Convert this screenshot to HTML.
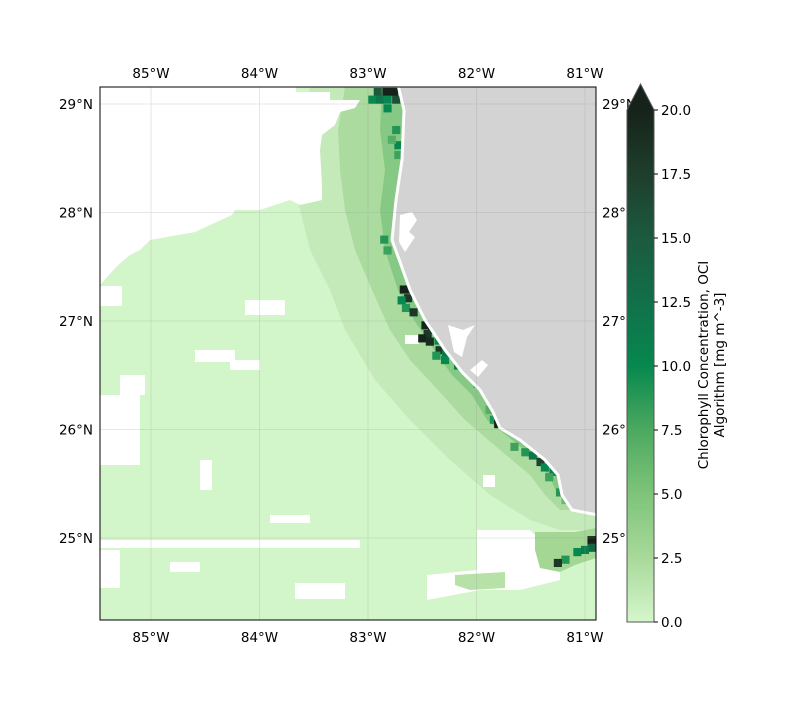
<!DOCTYPE html>
<html><head><meta charset="utf-8"><style>
body{margin:0;background:#fff;}
svg text{font-family:"DejaVu Sans","Liberation Sans",sans-serif;font-size:13.5px;fill:#000;}
</style></head><body>
<svg id="c" width="800" height="700" viewBox="0 0 800 700" xmlns="http://www.w3.org/2000/svg">
<defs>
<clipPath id="ax"><rect x="100" y="87" width="496" height="533"/></clipPath>
<linearGradient id="cbg" x1="0" y1="1" x2="0" y2="0">
<stop offset="0" stop-color="#d5f6cc"/><stop offset="0.125" stop-color="#a8d99a"/><stop offset="0.25" stop-color="#7ec47a"/><stop offset="0.375" stop-color="#4ca95f"/><stop offset="0.5" stop-color="#07884f"/><stop offset="0.625" stop-color="#11704a"/><stop offset="0.75" stop-color="#1c5a3f"/><stop offset="0.875" stop-color="#1e3e2c"/><stop offset="1" stop-color="#16231a"/>
</linearGradient>
</defs>
<g id="map" clip-path="url(#ax)">
<rect x="100" y="87" width="496" height="533" fill="#d3f5ca"/>
<polygon fill="#c4eaba" points="310,87 300,130 290,170 300,210 310,250 330,290 345,330 375,380 410,420 450,460 490,495 530,520 560,530 596,530 596,515 572,510 562,495 558,475 545,460 520,440 500,428 493,412 480,390 462,372 445,350 425,320 410,290 400,262 392,240 396,200 402,160 404,110 398,87"/>
<polygon fill="#abdb9f" points="345,87 338,130 340,170 345,210 355,250 372,290 390,330 410,360 438,390 465,420 500,450 530,475 545,495 560,510 572,510 562,495 558,475 545,460 520,440 500,428 493,412 480,390 462,372 445,350 425,320 410,290 400,262 392,240 396,200 402,160 404,110 398,87"/>
<polygon fill="#86c984" points="382,87 380,130 385,170 380,210 385,250 398,290 414,320 434,350 452,375 472,395 487,420 512,440 537,460 551,480 558,495 562,495 558,475 545,460 520,440 500,428 493,412 480,390 462,372 445,350 425,320 410,290 400,262 392,240 396,200 402,160 404,110 398,87"/>
<g id="nodata" fill="#fff">
<polygon points="100,87 296,87 296,92 330,92 330,100 360,100 355,108 340,112 335,125 322,135 320,150 322,185 322,200 300,205 290,200 260,210 235,210 232,215 210,225 195,232 150,240 140,250 130,255 118,265 100,285"/>
<rect x="100" y="286" width="22" height="20"/>
<rect x="100" y="395" width="40" height="70"/>
<rect x="120" y="375" width="25" height="20"/>
<rect x="195" y="350" width="40" height="12"/>
<rect x="230" y="360" width="30" height="10"/>
<rect x="245" y="300" width="40" height="15"/>
<rect x="200" y="460" width="12" height="30"/>
<rect x="100" y="540" width="260" height="8"/>
<rect x="100" y="550" width="20" height="38"/>
<rect x="170" y="562" width="30" height="10"/>
<rect x="295" y="583" width="50" height="16"/>
<rect x="270" y="515" width="40" height="8"/>
<polygon points="477,530 530,530 540,540 545,560 560,565 560,580 520,590 480,590 427,600 427,575 477,570"/>
<rect x="405" y="335" width="14" height="9"/>
<rect x="483" y="475" width="12" height="12"/>
</g>
<polygon fill="#a3d793" points="535,532 575,532 596,528 596,558 575,565 560,572 540,568 535,550"/>
<polygon fill="#b6e2a8" points="455,575 505,572 505,588 470,590 455,585"/>
<g id="cells"></g>
<polygon fill="#d3d3d3" stroke="#fff" stroke-width="3" points="398,85 404,110 402,160 396,200 392,240 400,262 410,290 425,320 445,350 462,372 480,390 493,412 500,428 520,440 545,460 558,475 562,495 572,510 598,515 598,85"/>
<g fill="#fff">
<path d="M400,215 l12,-3 l5,8 l-8,12 l6,5 l-10,15 l-6,-10 z"/>
<path d="M448,325 l15,5 l12,-5 l-8,12 l-5,20 l-8,-5 z"/>
<path d="M470,370 l12,-10 l6,5 l-10,12 z"/>
</g>
<g id="grid" stroke="#999" stroke-width="0.8" opacity="0.3"></g>
</g>
<rect x="100" y="87" width="496" height="533" fill="none" stroke="#000" stroke-width="1"/>
<g id="ticks"></g>
<g id="cbar">
<rect x="627" y="110" width="27" height="512" fill="url(#cbg)"/>
<polygon points="627,110 640.5,84 654,110" fill="#16231a"/>
<polygon points="627,110 640.5,84 654,110 654,622 627,622" fill="none" stroke="#555" stroke-width="1"/>
<g id="cbticks"></g>
<text transform="translate(711,365) rotate(-90)" text-anchor="middle"><tspan x="0" dy="-3">Chlorophyll Concentration, OCI</tspan><tspan x="0" dy="16">Algorithm [mg m^-3]</tspan></text>
</g>
</svg>
<script>
const lonTicks=[-85,-84,-83,-82,-81];
const latTicks=[29,28,27,26,25];
const lonLabels=["85°W","84°W","83°W","82°W","81°W"];
const latLabels=["29°N","28°N","27°N","26°N","25°N"];
const cbTicks=[0,2.5,5,7.5,10,12.5,15,17.5,20];
const cellLon=[-82.91,-82.83,-82.76,-82.96,-82.89,-82.82,-82.74,-82.82,-82.74,-82.72,-82.72,-82.78,-82.85,-82.82,-82.59,-82.54,-82.67,-82.61,-82.63,-82.69,-82.65,-82.58,-82.47,-82.41,-82.45,-82.50,-82.43,-82.35,-82.34,-82.28,-82.37,-82.29,-82.17,-81.99,-81.91,-81.88,-81.84,-81.80,-81.65,-81.55,-81.48,-81.41,-81.37,-81.29,-81.33,-81.23,-81.18,-80.94,-80.94,-81.00,-81.07,-81.18,-81.25];
const cellLat=[29.11,29.11,29.11,29.04,29.04,29.04,29.04,28.96,28.76,28.62,28.53,28.67,27.75,27.65,27.75,27.79,27.29,27.29,27.21,27.19,27.12,27.08,26.96,26.92,26.88,26.84,26.81,26.82,26.73,26.71,26.68,26.64,26.59,26.42,26.38,26.18,26.09,26.05,25.84,25.79,25.76,25.70,25.65,25.61,25.56,25.42,25.35,24.98,24.91,24.89,24.87,24.80,24.77];
const cellVal=[15,20,20,10,12,10,16,10,9,10,8,7,9,8,9,14,20,20,18,10,9,18,20,20,18,20,19,10,18,12,9,10,11,8,9,7,9,20,8,9,12,17,10,11,8,9,6,20,14,11,10,9,18];
const NS="http://www.w3.org/2000/svg";
const x=lon=>151+(lon+85)*108.5;
const y=lat=>104+(29-lat)*108.5;
const cbY=v=>622-v/20*512;
const stops=[[0,[213,246,204]],[2.5,[168,217,154]],[5,[126,196,122]],[7.5,[76,169,95]],[10,[7,136,79]],[12.5,[17,112,74]],[15,[28,90,63]],[17.5,[30,62,44]],[20,[22,35,26]]];
function cmap(v){v=Math.max(0,Math.min(20,v));for(let i=0;i<stops.length-1;i++){const a=stops[i],b=stops[i+1];if(v<=b[0]){const t=(v-a[0])/(b[0]-a[0]);return "rgb("+a[1].map((c,k)=>Math.round(c+(b[1][k]-c)*t)).join(",")+")";}}return "rgb(22,35,26)";}
function mk(tag,attrs,parent){const e=document.createElementNS(NS,tag);for(const k in attrs)e.setAttribute(k,attrs[k]);parent.appendChild(e);return e;}
const cells=document.getElementById('cells');
const cs=0.075*108.5;
for(let i=0;i<cellVal.length;i++){
 const r=mk('rect',{x:x(cellLon[i])-cs/2,y:y(cellLat[i])-cs/2,width:cs,height:cs,fill:cmap(cellVal[i])},cells);
 
 
}
const grid=document.getElementById('grid'),ticks=document.getElementById('ticks');
lonTicks.forEach((lon,i)=>{
 const l=mk('line',{x1:x(lon),x2:x(lon),y1:87,y2:620},grid);
 
 
 const tb=mk('text',{x:x(lon),y:642,'text-anchor':'middle'},ticks);tb.textContent=lonLabels[i];
 
 
 const tt=mk('text',{x:x(lon),y:78,'text-anchor':'middle'},ticks);tt.textContent=lonLabels[i];
 
 
});
latTicks.forEach((lat,i)=>{
 const l=mk('line',{x1:100,x2:596,y1:y(lat),y2:y(lat)},grid);
 
 
 const tl=mk('text',{x:93,y:y(lat)+5,'text-anchor':'end'},ticks);tl.textContent=latLabels[i];
 
 
 const tr=mk('text',{x:602,y:y(lat)+5,'text-anchor':'start'},ticks);tr.textContent=latLabels[i];
 
 
});
const svg=document.getElementById('c');
svg.appendChild(document.getElementById('cbar'));
const cbt=document.getElementById('cbticks');
cbTicks.forEach(v=>{
 const l=mk('line',{x1:654,x2:658,y1:cbY(v),y2:cbY(v),stroke:'#000'},cbt);
 
 
 const t=mk('text',{x:661,y:cbY(v)+5},cbt);t.textContent=v.toFixed(1);
 
 
});
</script>
</body></html>
